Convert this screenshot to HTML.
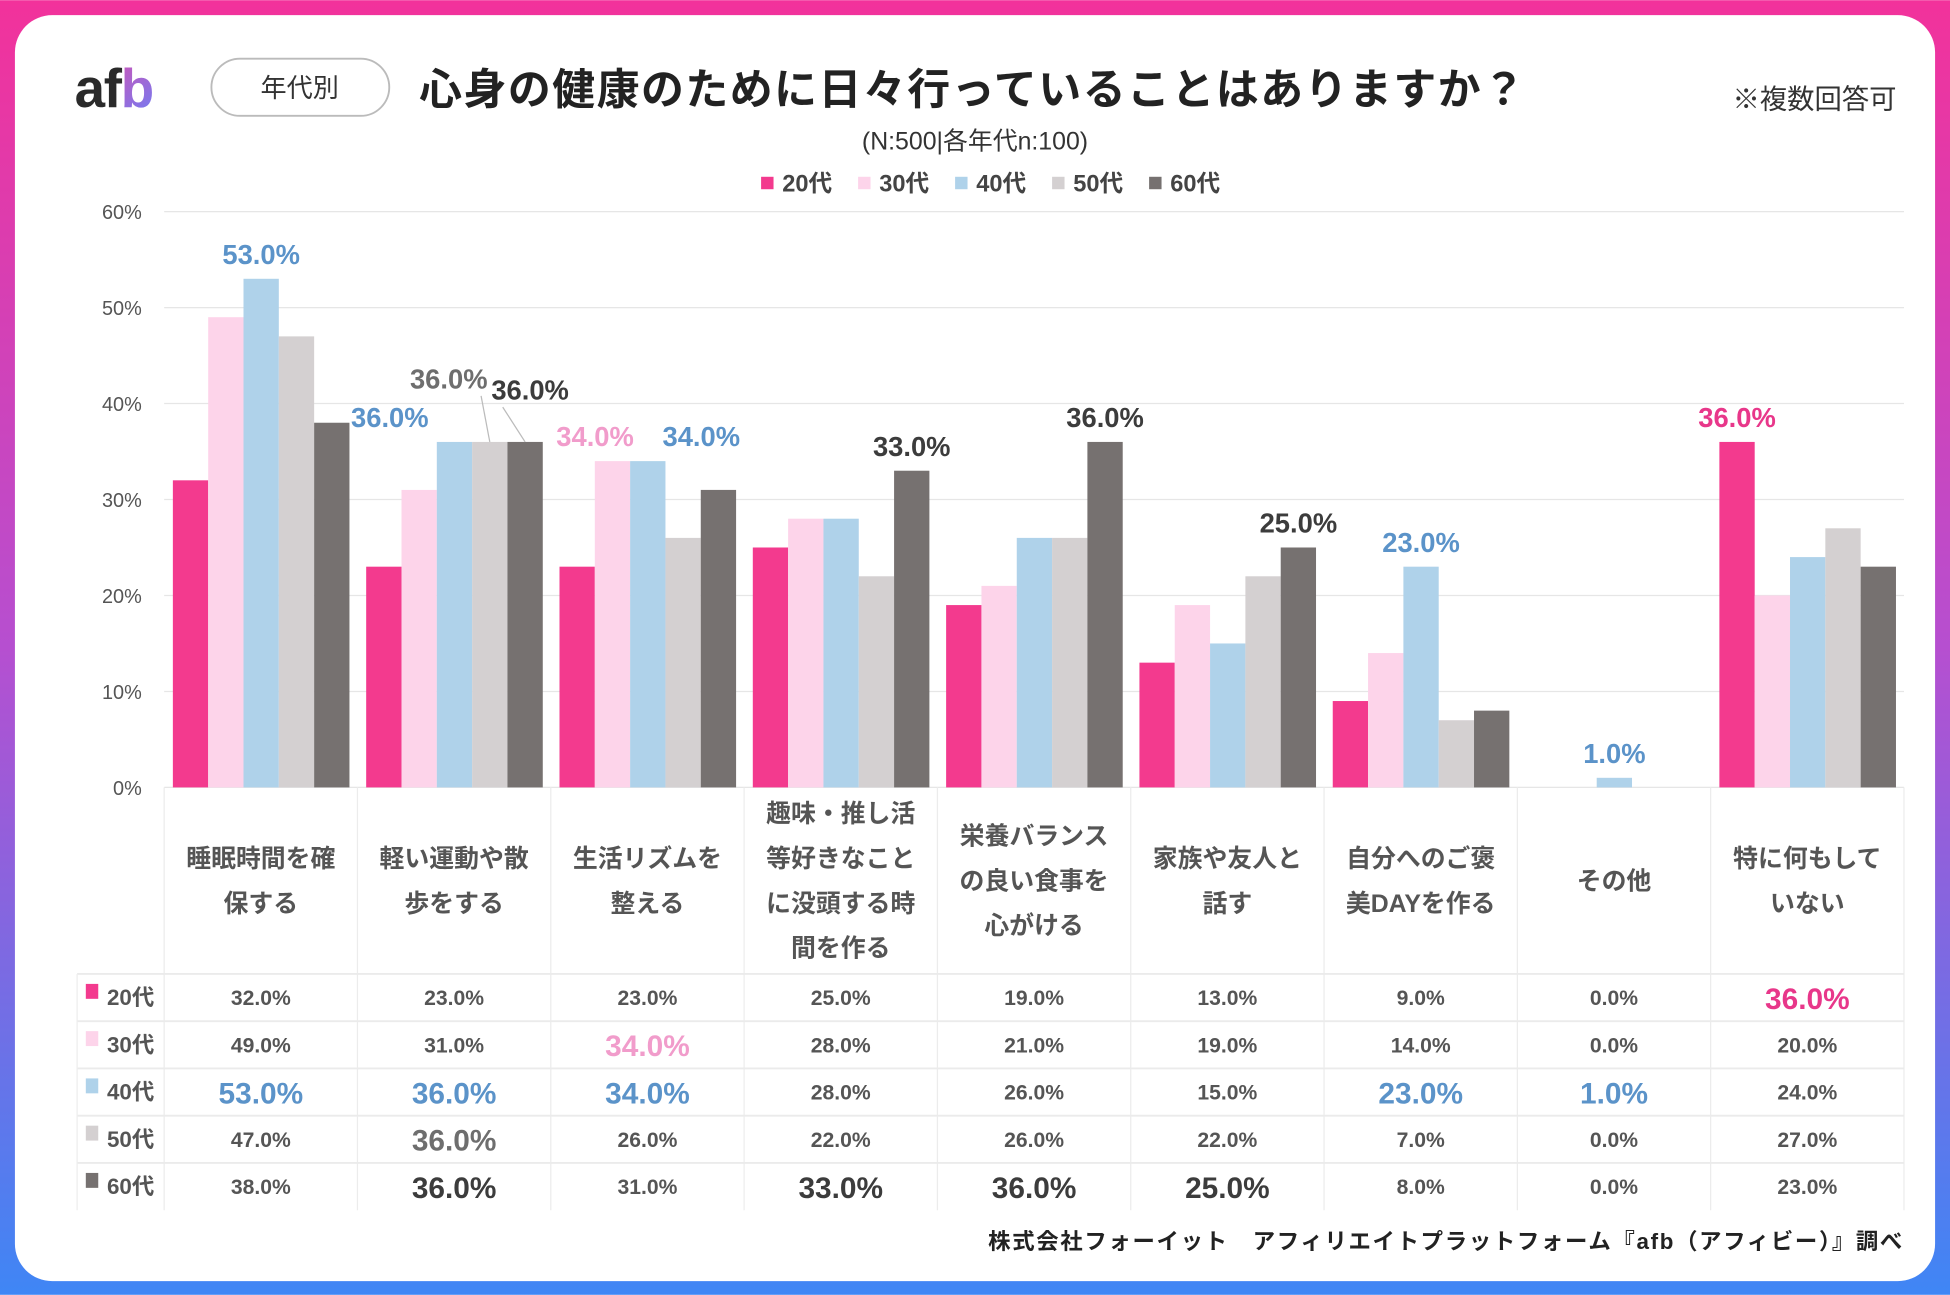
<!DOCTYPE html>
<html><head><meta charset="utf-8">
<style>
html,body{margin:0;padding:0;width:1950px;height:1295px;overflow:hidden;background:#fff}
svg{display:block}
text{font-family:"Liberation Sans","Noto Sans CJK JP",sans-serif}
</style></head>
<body>
<svg id="chart" width="1950" height="1295" viewBox="0 0 1568 1041" xmlns="http://www.w3.org/2000/svg">
<defs>
<linearGradient id="bg" x1="0" y1="0" x2="0" y2="1">
<stop offset="0" stop-color="#f2329b"/><stop offset="0.5" stop-color="#b64fd0"/><stop offset="1" stop-color="#3f86f5"/>
</linearGradient>
<linearGradient id="logob" x1="0" y1="0" x2="1" y2="1">
<stop offset="0" stop-color="#f0459f"/><stop offset="1" stop-color="#6f7df5"/>
</linearGradient>
</defs>
<rect x="0" y="0" width="1568" height="1041" fill="url(#bg)"/>
<rect x="12" y="12" width="1544" height="1018" rx="30" fill="#fff"/>
<text x="60" y="86" font-size="44" font-weight="bold" fill="#2a2a2a" letter-spacing="-1">af<tspan fill="url(#logob)">b</tspan></text>
<rect x="170" y="47" width="143" height="46" rx="23" fill="#fff" stroke="#bbb" stroke-width="1.5"/>
<text x="241" y="78" font-size="21" text-anchor="middle" fill="#333">年代別</text>
<text x="337" y="84" font-size="34.5" font-weight="bold" fill="#222" letter-spacing="1.2">心身の健康のために日々行っていることはありますか？</text>
<text x="1525" y="87" font-size="22" text-anchor="end" fill="#333">※複数回答可</text>
<text x="784" y="120" font-size="20" text-anchor="middle" fill="#333">(N:500|各年代n:100)</text>
<g id="legend"></g>
<g id="grid"></g>
<g id="bars"></g>
<g id="labels"></g>
<g id="table"></g>
<text x="1531" y="1004" font-size="18" font-weight="bold" text-anchor="end" fill="#222" letter-spacing="1.35">株式会社フォーイット　アフィリエイトプラットフォーム『afb（アフィビー）』調べ</text>
</svg>
<script>
const categories=[["睡眠時間を確","保する"],["軽い運動や散","歩をする"],["生活リズムを","整える"],["趣味・推し活","等好きなこと","に没頭する時","間を作る"],["栄養バランス","の良い食事を","心がける"],["家族や友人と","話す"],["自分へのご褒","美DAYを作る"],["その他"],["特に何もして","いない"]];
const seriesNames=["20代","30代","40代","50代","60代"];
const v20=[32,23,23,25,19,13,9,0,36];
const v30=[49,31,34,28,21,19,14,0,20];
const v40=[53,36,34,28,26,15,23,1,24];
const v50=[47,36,26,22,26,22,7,0,27];
const v60=[38,36,31,33,36,25,8,0,23];
const yTicks=[0,10,20,30,40,50,60];
const highlights=[[2,0],[2,1],[3,1],[4,1],[1,2],[2,2],[4,3],[4,4],[4,5],[2,6],[2,7],[0,8]];

const series=[v20,v30,v40,v50,v60];
const colors=["#f33a8e","#fdd4ea","#afd2ea","#d4d0d1","#767170"];
const labelColors=["#e8378a","#f19ccb","#5b93c9","#6e6e6e","#3c3c3c"];
const NS="http://www.w3.org/2000/svg";
const X0=132,X1=1531,Y0=633,Y60=170;
const cw=(X1-X0)/categories.length;
const y=v=>Y0-(v/60)*(Y0-Y60);
const bw=28.4;
const bx=(c,s)=>X0+c*cw+7+s*bw;
function mk(tag,attrs,parent,txt){const e=document.createElementNS(NS,tag);for(const k in attrs)e.setAttribute(k,attrs[k]);if(txt!==undefined)e.textContent=txt;parent.appendChild(e);return e;}
const grid=document.getElementById('grid');
yTicks.forEach(t=>{
  const l=mk('line',{x1:X0,x2:X1,y1:y(t),y2:y(t),stroke:'#e6e6e6','stroke-width':1},grid);
  
  
  const tx=mk('text',{x:114,y:y(t)+6,'font-size':16,'text-anchor':'end',fill:'#555'},grid,t+'%');
  
  
});
const lg=document.getElementById('legend');
seriesNames.forEach((n,i)=>{
  const x=612+i*78;
  const r=mk('rect',{x:x,y:142,width:10,height:10,fill:colors[i]},lg);
  
  
  const t=mk('text',{x:x+17,y:154,'font-size':19,'font-weight':'bold',fill:'#444'},lg,n);
  
  
});
const bars=document.getElementById('bars');
series.forEach((arr,s)=>arr.forEach((v,c)=>{
  if(v<=0)return;
  const r=mk('rect',{x:bx(c,s),y:y(v),width:bw,height:Y0-y(v),fill:colors[s]},bars);
  
  
}));
const isHi=(s,c)=>highlights.some(h=>h[0]===s&&h[1]===c);
const labels=document.getElementById('labels');
const offs={"2,1":[-52,-12],"3,1":[-33,-43],"4,1":[4,-34],"1,2":[-14,-12],"2,2":[43,-12]};
highlights.forEach(([s,c])=>{
  const v=series[s][c];
  const cx=bx(c,s)+bw/2;
  const o=offs[s+','+c]||[0,-12];
  const t=mk('text',{x:cx+o[0],y:y(v)+o[1],'font-size':22,'font-weight':'bold','text-anchor':'middle',fill:labelColors[s]},labels,v.toFixed(1)+'%');
  
  
  if(o[1]<-20){
    const ln=mk('line',{x1:cx+o[0]+(o[0]<0?26:-22),y1:y(v)+o[1]+6,x2:cx,y2:y(v),stroke:'#bbb','stroke-width':1},labels);
    
    
  }
});
const tb=document.getElementById('table');
const rowY=[783,821,859,897,935,973];
for(let i=0;i<=categories.length;i++){
  const x=X0+i*cw;
  const l=mk('line',{x1:x,x2:x,y1:Y0,y2:973,stroke:'#ececec','stroke-width':1},tb);
  
  
}
rowY.slice(0,5).forEach(ry=>{
  const l=mk('line',{x1:62,x2:X1,y1:ry,y2:ry,stroke:'#ebebeb','stroke-width':1.5},tb);
  
  
});
const lv=mk('line',{x1:62,x2:62,y1:783,y2:973,stroke:'#eeeeee','stroke-width':1},tb);


categories.forEach((lines,c)=>{
  const cx=X0+c*cw+cw/2;
  const lh=36, mid=708;
  const start=mid-(lines.length-1)*lh/2;
  lines.forEach((ln,k)=>{
    const t=mk('text',{x:cx,y:start+k*lh+7,'font-size':20,'font-weight':'bold','text-anchor':'middle',fill:'#555'},tb,ln);
    
    
  });
});
seriesNames.forEach((n,s)=>{
  const cy=(rowY[s]+rowY[s+1])/2;
  const r=mk('rect',{x:69,y:cy-11,width:10,height:12,fill:colors[s]},tb);
  
  
  const t=mk('text',{x:86,y:cy+6,'font-size':18,'font-weight':'bold',fill:'#555'},tb,n);
  
  
  series[s].forEach((v,c)=>{
    const hi=isHi(s,c);
    const t2=mk('text',{x:X0+c*cw+cw/2,y:cy+(hi?9:6),'font-size':hi?24:17,'font-weight':'bold','text-anchor':'middle',fill:hi?labelColors[s]:'#555'},tb,v.toFixed(1)+'%');
    
    
  });
});
</script>
</body></html>
